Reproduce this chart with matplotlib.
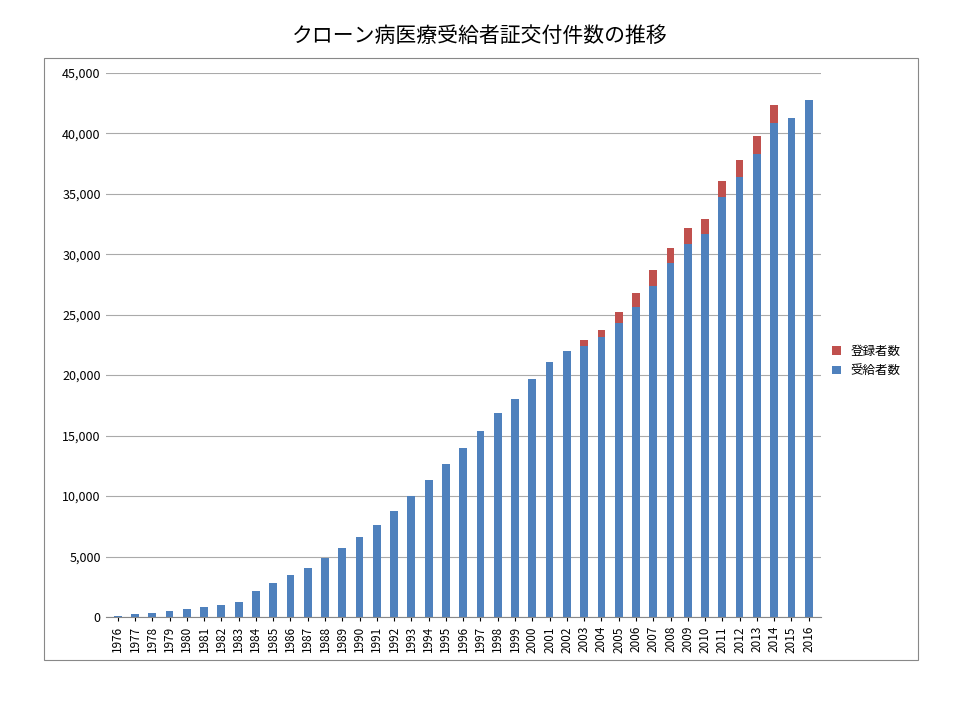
import matplotlib.pyplot as plt
from matplotlib.ticker import FuncFormatter

plt.rcParams["font.family"] = ["Noto Sans CJK JP", "DejaVu Sans"]

years = [str(y) for y in range(1976, 2017)]
jukyu = [100, 250, 350, 500, 650, 800, 1000, 1250, 2150, 2800,
         3500, 4050, 4850, 5700, 6600, 7650, 8800, 10000, 11300, 12650,
         13950, 15400, 16850, 18050, 19650, 21050, 22000, 22400, 23150, 24340,
         25630, 27380, 29260, 30870, 31640, 34720, 36380, 38260, 40850, 41240, 42730]
totals = [None] * 27 + [22930, 23760, 25220, 26800, 28700, 30550, 32200, 32880,
                        36030, 37760, 39780, 42370, None, None]
toroku = [0 if t is None else t - j for t, j in zip(totals, jukyu)]

fig = plt.figure(figsize=(9.6, 7.2), dpi=100)
ax = fig.add_axes([0.11, 0.143, 0.745, 0.756])
fig.patches.append(plt.Rectangle((0.046, 0.083), 0.91, 0.837, transform=fig.transFigure,
                                 fill=False, edgecolor="#888888", linewidth=0.8))

x = range(len(years))
ax.bar(x, jukyu, width=0.45, color="#4F81BD", label="受給者数", zorder=2)
ax.bar(x, toroku, width=0.45, bottom=jukyu, color="#C0504D", label="登録者数", zorder=2)

ax.set_xlim(-0.7, len(years) - 0.3)
ax.set_ylim(0, 45000)
ax.set_yticks(range(0, 45001, 5000))
ax.yaxis.set_major_formatter(FuncFormatter(lambda v, p: f"{int(v):,}"))
ax.set_xticks(list(x))
ax.set_xticklabels(years, rotation=90, fontsize=8.5)
ax.tick_params(axis="y", labelsize=9, length=0)
ax.tick_params(axis="x", length=3)
ax.grid(axis="y", color="#aaaaaa", linewidth=0.8, zorder=0)
for s in ["top", "right", "left"]:
    ax.spines[s].set_visible(False)
ax.spines["bottom"].set_color("#888888")

h, l = ax.get_legend_handles_labels()
ax.legend(h[::-1], l[::-1], loc="center left", bbox_to_anchor=(1.0, 0.47), frameon=False,
          fontsize=9, handlelength=0.7, handleheight=0.7)

fig.suptitle("クローン病医療受給者証交付件数の推移", y=0.965, fontsize=15)
fig.savefig("out.png")
